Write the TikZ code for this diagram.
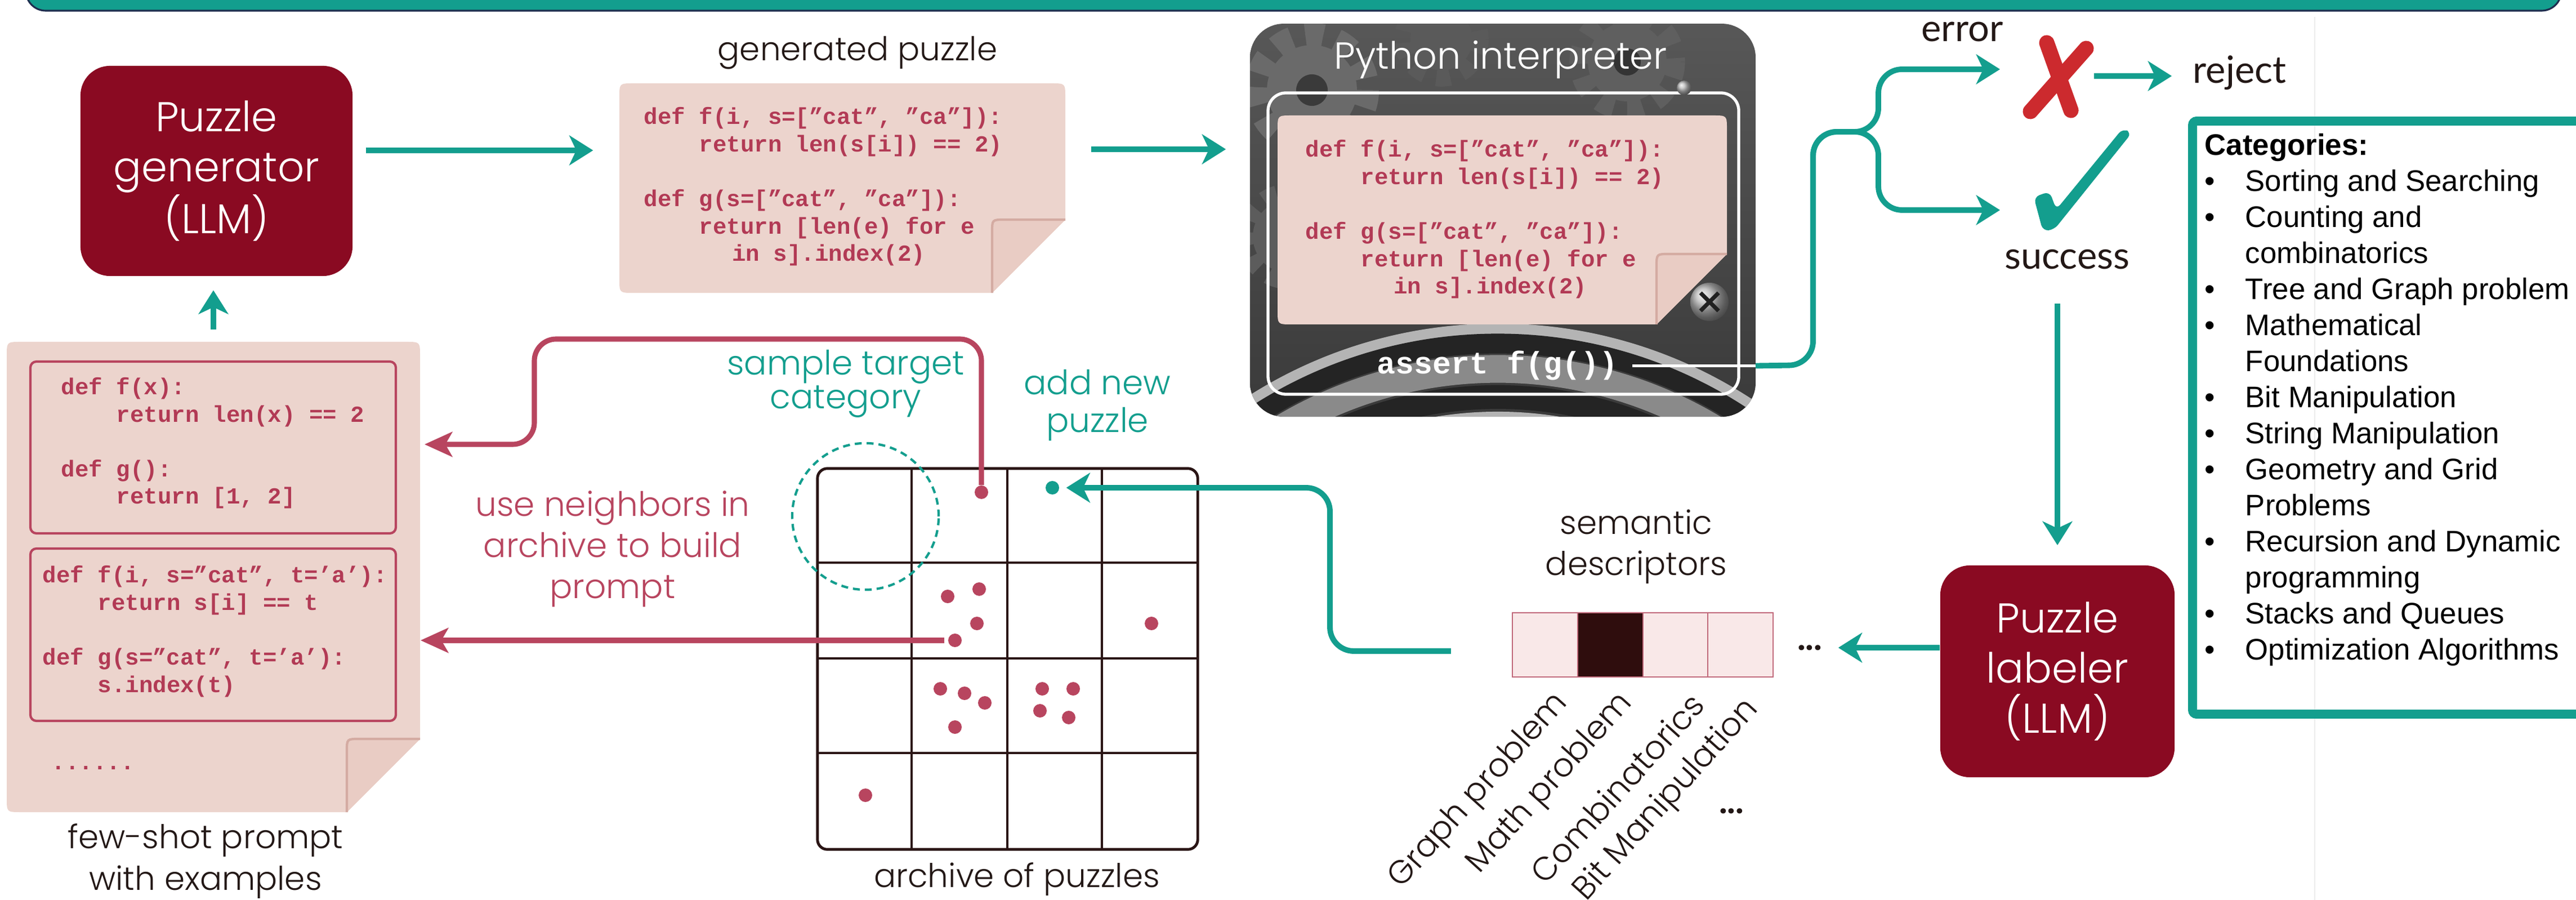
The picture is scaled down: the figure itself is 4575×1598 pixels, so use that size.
\documentclass[tikz,border=0pt]{standalone}
\usepackage{fontspec}
\setmainfont{Poppins}[UprightFont=* Light, BoldFont=* SemiBold]
\newfontfamily\codefont{Liberation Mono}
\newfontfamily\latofont{Lato}
\newfontfamily\arialfont{Liberation Sans}
\usetikzlibrary{positioning,calc,arrows.meta}

\definecolor{llmred}{HTML}{8A0A22}
\definecolor{tealc}{HTML}{139E8E}
\definecolor{crim}{HTML}{B8455F}
\definecolor{codec}{HTML}{B23A55}
\definecolor{notef}{HTML}{ECD4CD}
\definecolor{flapc}{HTML}{E9CCC4}
\definecolor{flapline}{HTML}{D4ABA2}
\definecolor{gridc}{HTML}{2A1515}
\definecolor{cellf}{HTML}{F9E8E8}
\definecolor{celldark}{HTML}{2F0D0D}
\definecolor{cellb}{HTML}{C0687A}
\definecolor{navy}{HTML}{1E2D4F}
\definecolor{xred}{HTML}{CC2A2E}
\definecolor{txtc}{HTML}{231816}
\definecolor{pybg}{HTML}{3A3A3A}
\definecolor{gearc}{HTML}{6A6A6A}
\definecolor{ringlight}{HTML}{B4B4B4}
\definecolor{ringmid}{HTML}{8A8A8A}
\definecolor{ringdark}{HTML}{242424}

\tikzset{
  llmbox/.style={fill=llmred, rounded corners=15pt, text=white, align=center, inner sep=0pt,
    font=\fontsize{21}{25.2}\selectfont},
  tealarr/.style={draw=tealc, line width=2.8pt, -{Stealth[length=12pt,width=15pt,inset=3.5pt]}},
  crimarr/.style={draw=crim, line width=2.6pt, rounded corners=11pt, -{Stealth[length=14pt,width=12.5pt,inset=3.5pt]}},
  code/.style={font=\codefont\bfseries\fontsize{11.6}{13.9}\selectfont, text=codec, align=left,
    anchor=base west, inner sep=0pt},
  lbl/.style={font=\fontsize{16.5}{20.8}\selectfont, align=center, text=txtc, inner sep=0pt, anchor=base},
  latolbl/.style={font=\latofont\fontsize{19}{23}\selectfont, text=txtc, inner sep=0pt},
  desc/.style={font=\fontsize{16.5}{16.5}\selectfont, text=txtc, inner sep=0pt, rotate=48, anchor=east},
  rdot/.style={circle, fill=crim, inner sep=0pt, minimum size=0.24cm},
  cell/.style={draw=cellb, line width=0.7pt, fill=cellf, minimum width=1.16cm, minimum height=1.14cm, inner sep=0pt},
  gridline/.style={draw=gridc, line width=1.4pt},
  area/.style={inner sep=0pt, minimum width=#1},
}

\newcommand{\ind}[1]{\hspace*{#1\fontcharwd\font`x}}
\newcommand{\bul}{\makebox[20.5pt][l]{\textbullet}}
\newcommand{\gap}{\hspace*{20.5pt}}
% note page with a folded corner: left, top, right, bottom, fold
\newcommand{\dognote}[5]{%
  \fill[notef] (#1,{#2+25}) .. controls (#1,#2) .. ({#1+25},#2) -- ({#3-25},#2)
    .. controls (#3,#2) .. (#3,{#2+25}) -- (#3,{#4-#5}) -- ({#3-#5},#4) -- ({#1+25},#4)
    .. controls (#1,#4) .. (#1,{#4-25}) -- cycle;
  \fill[flapc] (#3,{#4-#5}) -- ({#3-#5+22},{#4-#5}) .. controls ({#3-#5},{#4-#5}) .. ({#3-#5},{#4-#5+22})
    -- ({#3-#5},#4) -- cycle;
  \draw[flapline, line width=1.2pt] (#3,{#4-#5}) -- ({#3-#5+22},{#4-#5}) .. controls ({#3-#5},{#4-#5}) .. ({#3-#5},{#4-#5+22})
    -- ({#3-#5},#4);
}

\begin{document}
\begin{tikzpicture}[x=0.01cm, y=-0.01cm]
\useasboundingbox (0,0) rectangle (4575,1598);
\clip (0,0) rectangle (4575,1598);

% banner and faint guide
\fill[tealc, draw=navy, line width=0.9pt, rounded corners=10pt] (46,-80) rectangle (4549,19);
\draw[black!7, line width=0.4pt] (4111,30) -- (4111,1598);

% generator
\node[llmbox, minimum width=4.83cm, minimum height=3.73cm] (gen) at (384.5,303.5) {Puzzle\\generator\\(LLM)};

% generated puzzle
\node[area=7.92cm, minimum height=3.72cm] (gp) at (1496,334) {};
\dognote{1100}{148}{1892}{520}{130}
\node[lbl] (gplbl) at (1523,108) {generated puzzle};
\node[code] (gpcode) at (1143,464) {def f(i, s=[”cat”, ”ca”]):\\
\ind{4}return len(s[i]) == 2)\\[13.7pt]
def g(s=[”cat”, ”ca”]):\\
\ind{4}return [len(e) for e\\
\ind{6.4}in s].index(2)};

\draw[tealarr, shorten <=6.5pt, shorten >=13pt] (gen.east |- 0,267) -- (gp.west |- 0,267);

% python interpreter
\node[area=8.96cm, minimum height=6.96cm] (py) at (2669,391) {};
\begin{scope}
  \clip[rounded corners=17pt] (py.north west) rectangle (py.south east);
  \shade[top color=pybg!85!white, bottom color=pybg] (py.north west) rectangle (py.south east);
  \fill[gearc] (2330,160) circle (80);
  \draw[gearc, line width=12pt, dash pattern=on 9pt off 7pt] (2330,160) circle (98);
  \fill[pybg] (2330,160) circle (28);
  \fill[gearc!85!black] (2560,70) circle (55);
  \draw[gearc!85!black, line width=9pt, dash pattern=on 7pt off 6pt] (2560,70) circle (68);
  \fill[gearc!90!black] (2890,110) circle (70);
  \draw[gearc!90!black, line width=10pt, dash pattern=on 8pt off 7pt] (2890,110) circle (85);
  \fill[pybg!90!black] (2890,110) circle (24);
  \fill[gearc!70!pybg] (2290,420) circle (65);
  \draw[gearc!70!pybg, line width=9pt, dash pattern=on 7pt off 6pt] (2290,420) circle (78);
  \foreach \r/\w/\c in {815/6pt/ringlight, 790/10pt/ringdark, 745/14pt/ringmid, 695/12pt/ringdark, 655/8pt/ringlight}
    \draw[\c, line width=\w] (2660,1400) circle (\r);
\end{scope}
\node[font=\fontsize{19}{23}\selectfont, text=white, anchor=base, inner sep=0pt] (pytitle) at (2665,123) {Python interpreter};
\draw[white, line width=1.5pt, rounded corners=9pt] (2252,165) rectangle (3088,700);
\dognote{2269}{205}{3067}{576}{125}
\node[code] (pycode) at (2318,522) {def f(i, s=[”cat”, ”ca”]):\\
\ind{4}return len(s[i]) == 2)\\[13.7pt]
def g(s=[”cat”, ”ca”]):\\
\ind{4}return [len(e) for e\\
\ind{6.4}in s].index(2)};
\shade[ball color=gray!55] (3036,536) circle (34);
\draw[gray!25!black, line width=2pt] (3020,520) -- (3052,552) (3052,520) -- (3020,552);
\shade[ball color=gray!55] (2991,156) circle (13);
\node[font=\codefont\bfseries\fontsize{15.6}{18}\selectfont, text=white, anchor=base west, inner sep=0pt] (assert) at (2445,664) {assert f(g())};

\draw[tealarr, shorten <=12.8pt, shorten >=12.2pt] (gp.east |- 0,265) -- (py.west |- 0,265);

% outcome
\node[area=1.3cm, minimum height=1.56cm] (xmark) at (3653,139) {};
\draw[xred, line width=7.7pt, line cap=round] (3635,76) -- (3678,196);
\draw[xred, line width=7.7pt, line cap=round] (3705,86) -- (3606,198);
\node[area=1.75cm, minimum height=1.85cm] (check) at (3697,322) {};
\fill[tealc, rounded corners=3pt] (3612,350) -- (3640,340) -- (3652,372) -- (3770,228) -- (3786,236)
  -- (3648,408) -- (3628,410) -- cycle;
\coordinate (errtip) at (3552,123);
\coordinate (oktip) at (3552,373);
\node[latolbl, anchor=base] (err) at (3485,74) {error};
\node[latolbl, anchor=base west] (reject) at (3894,148) {reject};
\node[latolbl, anchor=base] (succ) at (3671,478) {success};

\draw[white, line width=1.6pt, shorten <=7pt] (assert.east) -- (py.east |- assert.east);
\draw[tealarr, rounded corners=12pt] (py.east |- assert.east) -- (3220,648) -- (3220,234) -- (3336,234) |- (errtip);
\draw[tealarr, rounded corners=12pt] (3220,300) -- (3220,234) -- (3336,234) |- (oktip);
\draw[tealarr, shorten >=10.5pt] (xmark.east |- 0,135) -- (reject.west |- 0,135);

% categories
\draw[tealc, line width=4.5pt, rounded corners=2pt] (3894,215) rectangle (4640,1268);
\node[font=\arialfont\fontsize{15}{18.2}\selectfont, align=left, anchor=base west, inner sep=0pt] (cats) at (3915,1172) {\textbf{Categories:}\\
\bul Sorting and Searching\\
\bul Counting and\\
\gap combinatorics\\
\bul Tree and Graph problem\\
\bul Mathematical\\
\gap Foundations\\
\bul Bit Manipulation\\
\bul String Manipulation\\
\bul Geometry and Grid\\
\gap Problems\\
\bul Recursion and Dynamic\\
\gap programming\\
\bul Stacks and Queues\\
\bul Optimization Algorithms};

% labeler
\node[llmbox, minimum width=4.16cm, minimum height=3.76cm] (lab) at (3654,1192) {Puzzle\\labeler\\(LLM)};
\draw[tealarr, shorten >=10pt] (lab.north |- 0,539) -- (lab.north);

% semantic descriptors
\node[cell] (d1) at (2744,1145) {};
\node[cell, fill=celldark] (d2) at (2860,1145) {};
\node[cell] (d3) at (2976,1145) {};
\node[cell] (d4) at (3091,1145) {};
\node[lbl] (desclbl) at (2906,1022) {semantic\\descriptors};
\node[font=\bfseries\fontsize{16}{16}\selectfont, text=txtc, inner sep=0pt] (dots) at (3214,1150) {...};
\node[font=\bfseries\fontsize{16}{16}\selectfont, text=txtc, inner sep=0pt] (dots2) at (3075,1440) {...};
\node[desc] (l1) at (2775,1240) {Graph problem};
\node[desc] (l2) at (2890,1240) {Math problem};
\node[desc] (l3) at (3015,1240) {Combinatorics};
\node[desc] (l4) at (3114,1250) {Bit Manipulation};
\draw[tealarr, shorten >=8pt] (lab.west |- 0,1150) -- (dots.east);

% archive
\node[draw=gridc, line width=1.4pt, rounded corners=5pt, minimum width=6.75cm, minimum height=6.76cm, inner sep=0pt] (arch) at (1789.5,1170) {};
\foreach \x in {1619,1789,1957} \draw[gridline] (\x,832) -- (\x,1508);
\foreach \y in {999,1169,1337} \draw[gridline] (1452,\y) -- (2127,\y);
\node[lbl] (archlbl) at (1806,1575) {archive of puzzles};
\foreach \x/\y [count=\i] in {1743/874, 1683/1059, 1739/1046, 1735/1107, 1696/1137, 2045/1107,
  1670/1223, 1713/1231, 1749/1248, 1696/1291, 1851/1223, 1906/1223, 1847/1262, 1898/1274, 1537/1412}
  \node[rdot] (p\i) at (\x,\y) {};
\node[rdot, fill=tealc] (pn) at (1869,866) {};
\node[circle, draw=tealc, line width=1.2pt, dash pattern=on 3.5pt off 2.5pt, minimum size=2.6cm] (tgt) at (1537,917) {};
\node[lbl, text=tealc, font=\fontsize{17}{17.1}\selectfont] (tgtlbl) at (1502,726) {sample target\\category};
\node[lbl, text=tealc, font=\fontsize{17}{19.3}\selectfont] (addlbl) at (1949,768) {add new\\puzzle};
\draw[tealarr, rounded corners=12pt, shorten >=3.4pt] ($(d1.west)+(-108,11)$) -| (2362,866) -- (pn.east);

% few-shot prompt
\node[area=7.34cm, minimum height=8.35cm] (pr) at (379,1024.5) {};
\dognote{12}{607}{746}{1442}{130}
\draw[crim, line width=1.2pt, rounded corners=3pt] (54,642) rectangle (703,947);
\draw[crim, line width=1.2pt, rounded corners=3pt] (54,974) rectangle (703,1280);
\node[code] (ex1) at (108,895) {def f(x):\\
\ind{4}return len(x) == 2\\[13.7pt]
def g():\\
\ind{4}return [1, 2]};
\node[code] (ex2) at (75,1229) {def f(i, s=”cat”, t=’a’):\\
\ind{4}return s[i] == t\\[13.7pt]
def g(s=”cat”, t=’a’):\\
\ind{4}s.index(t)};
\node[code] (more) at (91,1366) {......};
\node[lbl] (prlbl) at (365,1580) {few-shot prompt\\with examples};
\draw[tealarr, shorten <=6pt, shorten >=7pt] (pr.north) -- (pr.north |- gen.south);

% neighbours back to the prompt
\node[lbl, text=crim, font=\fontsize{17}{20.8}\selectfont] (nblbl) at (1088,1063) {use neighbors in\\archive to build\\prompt};
\draw[crimarr, shorten >=2pt] (p1.north) |- (949,602) |- (pr.east |- 0,789);
\draw[crimarr, shorten <=1.7pt] (p5.west) -- (p5.west -| pr.east);
\end{tikzpicture}
\end{document}
